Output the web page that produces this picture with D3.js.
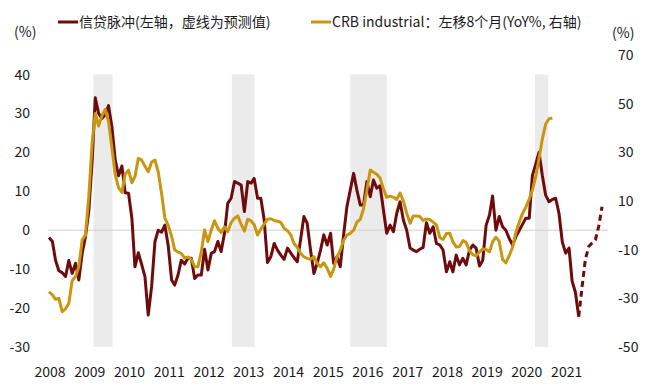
<!DOCTYPE html>
<html>
<head>
<meta charset="utf-8">
<script src="https://cdn.jsdelivr.net/npm/d3@7"></script>
<style>
body { margin: 0; background: #fff; }
text { font-family: "Noto Sans CJK SC", "Noto Sans", sans-serif; fill: #1a1a1a; }
</style>
</head>
<body>
<svg id="chart" width="649" height="387"></svg>
<script>
// monthly series, first value = Jan 2008
var startMonth = new Date(2008, 0, 1);

// credit impulse, left axis (last values are forecast)
var creditImpulse = [
  -1.9, -2.9, -7.7, -10.4, -10.9, -11.9, -7.8, -11.1, -8.5, -12.8, -5.9, -1.7,
  5, 18, 34, 30, 28.7, 29.6, 32, 26.6, 18, 14, 16.5, 9.6,
  9.5, 3, -9.4, -5.8, -8.7, -11.9, -21.8, -14.5, -2.9, 0, -0.5, 1.3,
  -4, -12.8, -14.1, -11.5, -7.7, -8.7, -7.2, -7.2, -12.4, -11.5, -11.5, -4.9,
  -10.2, -5.9, -5.5, -2.9, -5.5, -0.8, 6.9, 8.2, 12.5, 12.1, 11.6, 4.8,
  12.5, 12.1, 13.3, 8.2, 8.2, 2.6, -8.3, -6.8, -3.4, -5.1, -6.4, -7.5,
  -4.6, -5.9, -7, -8.1, -2.5, 3.5, 1.8, -5.1, -11.1, -8.5, -5.1, -1.2,
  -3.8, -0.8, -8.5, -6.8, -9.4, -1.2, 6, 10.3, 14.6, 10.3, 6.5, 6.5,
  12.5, 8.6, 12.9, 10.8, 11.4, 5.2, -0.8, 1.3, -0.4, 4.3, 7.3, 2.6,
  0, -4.6, -5.1, -5.5, -4.9, -4.4, 1.9, -0.8, 0.9, -3.4, -3.8, -5.1,
  -10.7, -8.1, -10.7, -6.4, -8.9, -7.2, -8.9, -5.1, -3.8, -4.6, -9.2, -7.7,
  1.3, 3.9, 8.8, 0, 3.5, 0.9, 0, -2.1, -3.8, -1.7, -0.1, 1.5,
  3.1, 3.1, 14, 17, 20, 14, 9, 7.3, 7.9, 8.2, 4.3, -3,
  -5.9, -4.6, -13, -16, -22.2, -14.5, -7.5, -4.2, -3.3, -2.5, 1, 6
];
var forecastFrom = 160;

// CRB industrial YoY, shifted 8 months left, right axis
var crbIndustrial = [
  -27.3, -28.6, -30.4, -30, -35.5, -34.3, -32, -22.8, -21, -17, -6, -4,
  12, 34, 46, 40.8, 45, 47.7, 42.6, 32, 20.7, 15.5, 13.5, 21,
  22.7, 17.5, 20, 27.5, 26.8, 24.3, 22, 26, 26.8, 22, 13, 3,
  0, -4.5, -10, -11, -11.5, -13.5, -13, -14, -17, -17, -10.9, -1.9,
  -6.7, -1.9, 1.9, -1.2, -3, -0.6, -2.6, 1.2, 2.9, 3.9, 0.5, -2.4,
  2.5, 1.8, 0.3, -4, -1.5, 0.5, 2.5, 2.7, 2, 1.7, 1.2, -1.2,
  -2.2, -4, -7.4, -9, -11.5, -12.9, -13.6, -14, -12.9, -15.6, -17, -15.4,
  -17.7, -21, -18.1, -13, -10.2, -6.2, -4, -3.3, -2, 1.3, 2.5, 6.8,
  14.5, 22.7, 21.8, 21, 19.5, 15, 11.5, 12, 11.5, 10.6, 13.3, 10,
  5, 0.8, 3.8, 3.8, 3.6, 2, 2.6, 2.4, 1.3, 0.2, -5, -5.8,
  -3.4, -3.3, -6.7, -8.9, -8.7, -6.3, -7, -10.5, -12, -12.6, -11, -9.7,
  -9.9, -10.9, -6.8, -4.9, -6.5, -14, -15.4, -12.5, -9, -3, 1.3, 4.8,
  7.5, 10.8, 14.5, 20, 27.5, 35.6, 41.5, 43.8, 44.1
];

var shadedPeriods = [
  ["2009-02-13", "2009-08-07"],
  ["2012-08-07", "2013-03-04"],
  ["2015-08-01", "2016-07-04"],
  ["2020-03-25", "2020-07-25"]
];

var yearLabels = ["2008", "2009", "2010", "2011", "2012", "2013", "2014",
  "2015", "2016", "2017", "2018", "2019", "2020", "2021"];
var leftTicks = [-30, -20, -10, 0, 10, 20, 30, 40];
var rightTicks = [-50, -30, -10, 10, 30, 50, 70];

var legendItems = [
  {name: "信贷脉冲(左轴，虚线为预测值)", color: "#6e0b0d"},
  {name: "CRB industrial：左移8个月(YoY%, 右轴)", color: "#c9960f"}
];

var svg = d3.select("#chart");
var parse = d3.timeParse("%Y-%m-%d");

function monthOf(i) { return d3.timeMonth.offset(startMonth, i); }

var x = d3.scaleTime()
  .domain([startMonth, monthOf(creditImpulse.length - 1)])
  .range([49, 602]);
var yLeft = d3.scaleLinear().domain([-30, 45]).range([347, 55]);
var yRight = d3.scaleLinear().domain([-50, 70]).range([347, 55]);

// shaded periods
svg.append("g").selectAll("rect")
  .data(shadedPeriods)
  .enter().append("rect")
  .attr("x", function (d) { return x(parse(d[0])); })
  .attr("width", function (d) { return x(parse(d[1])) - x(parse(d[0])); })
  .attr("y", yLeft(40))
  .attr("height", yLeft(-30) - yLeft(40))
  .attr("fill", "#ebebeb");

// zero line
svg.append("line")
  .attr("x1", 48).attr("x2", 608)
  .attr("y1", yLeft(0)).attr("y2", yLeft(0))
  .attr("stroke", "#cfcfcf").attr("stroke-width", 1);

var redPts = creditImpulse.map(function (v, i) { return {date: monthOf(i), v: v}; });
var goldPts = crbIndustrial.map(function (v, i) { return {date: monthOf(i), v: v}; });

var lineL = d3.line().x(function (d) { return x(d.date); }).y(function (d) { return yLeft(d.v); });
var lineR = d3.line().x(function (d) { return x(d.date); }).y(function (d) { return yRight(d.v); });

svg.append("path")
  .datum(redPts.slice(0, forecastFrom + 1))
  .attr("d", lineL)
  .attr("fill", "none")
  .attr("stroke", legendItems[0].color)
  .attr("stroke-width", 3)
  .attr("stroke-linejoin", "round");

svg.append("path")
  .datum(redPts.slice(forecastFrom))
  .attr("d", lineL)
  .attr("fill", "none")
  .attr("stroke", legendItems[0].color)
  .attr("stroke-width", 3)
  .attr("stroke-dasharray", "6,4");

svg.append("path")
  .datum(goldPts)
  .attr("d", lineR)
  .attr("fill", "none")
  .attr("stroke", legendItems[1].color)
  .attr("stroke-width", 3)
  .attr("stroke-linejoin", "round");

// axes labels
svg.append("g").selectAll("text")
  .data(leftTicks)
  .enter().append("text")
  .attr("x", 30).attr("y", function (d) { return yLeft(d); })
  .attr("dy", "0.36em")
  .attr("text-anchor", "end")
  .attr("font-size", 14)
  .text(function (d) { return d; });

svg.append("g").selectAll("text")
  .data(rightTicks)
  .enter().append("text")
  .attr("x", 618).attr("y", function (d) { return yRight(d); })
  .attr("dy", "0.36em")
  .attr("font-size", 14)
  .text(function (d) { return d; });

svg.append("g").selectAll("text")
  .data(yearLabels)
  .enter().append("text")
  .attr("x", function (d) { return x(new Date(+d, 0, 1)) + 1; })
  .attr("y", 372)
  .attr("dy", "0.36em")
  .attr("text-anchor", "middle")
  .attr("font-size", 14)
  .text(function (d) { return d; });

svg.append("text").attr("x", 14).attr("y", 32).attr("dy", "0.36em")
  .attr("font-size", 14).text("(%)");
svg.append("text").attr("x", 612).attr("y", 33).attr("dy", "0.36em")
  .attr("font-size", 14).text("(%)");

// legend
var legendX = [58, 311];
var lg = svg.append("g").selectAll("g")
  .data(legendItems)
  .enter().append("g")
  .attr("transform", function (d, i) { return "translate(" + legendX[i] + ",22)"; });
lg.append("line")
  .attr("x1", 0).attr("x2", 20).attr("y1", 0).attr("y2", 0)
  .attr("stroke", function (d) { return d.color; })
  .attr("stroke-width", 3);
lg.append("text")
  .attr("x", 21).attr("dy", "0.36em")
  .attr("font-size", 14)
  .text(function (d) { return d.name; });
</script>
</body>
</html>
